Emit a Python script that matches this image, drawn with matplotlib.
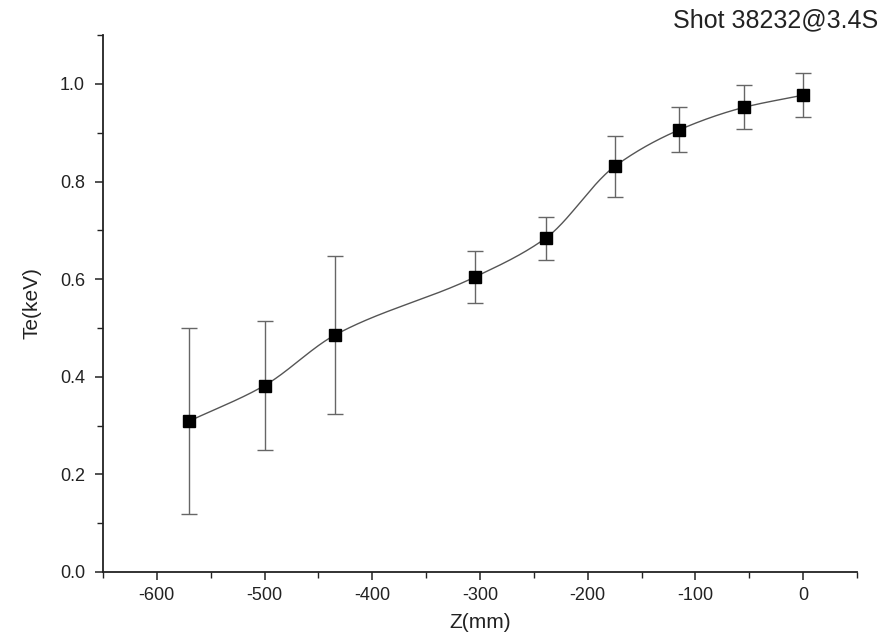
import numpy as np
import matplotlib
matplotlib.use("Agg")
import matplotlib.pyplot as plt
from matplotlib.ticker import MultipleLocator, FormatStrFormatter

# Te profile along Z, shot 38232 at 3.4 s
z_mm = [-570, -500, -435, -305, -239, -175, -115, -55, 0]
te_kev = [0.309, 0.382, 0.485, 0.604, 0.684, 0.831, 0.906, 0.952, 0.977]
te_err = [0.190, 0.133, 0.162, 0.053, 0.044, 0.063, 0.046, 0.045, 0.045]

plt.rcParams['font.family'] = ['Liberation Sans', 'DejaVu Sans']
plt.rcParams['axes.unicode_minus'] = False


def pchip_curve(x, y, n=500):
    # shape preserving cubic, only used to draw the connecting curve
    x = np.asarray(x, float)
    y = np.asarray(y, float)
    h = np.diff(x)
    delta = np.diff(y) / h
    m = np.zeros_like(y)
    for i in range(1, len(x) - 1):
        if delta[i - 1] * delta[i] > 0:
            w1 = 2 * h[i] + h[i - 1]
            w2 = h[i] + 2 * h[i - 1]
            m[i] = (w1 + w2) / (w1 / delta[i - 1] + w2 / delta[i])
    m[0] = delta[0]
    m[-1] = delta[-1]
    xs = np.linspace(x[0], x[-1], n)
    idx = np.clip(np.searchsorted(x, xs) - 1, 0, len(x) - 2)
    t = (xs - x[idx]) / h[idx]
    h00 = 2 * t ** 3 - 3 * t ** 2 + 1
    h10 = t ** 3 - 2 * t ** 2 + t
    h01 = -2 * t ** 3 + 3 * t ** 2
    h11 = t ** 3 - t ** 2
    ys = h00 * y[idx] + h10 * h[idx] * m[idx] + h01 * y[idx + 1] + h11 * h[idx] * m[idx + 1]
    return xs, ys


fig = plt.figure(figsize=(8.84, 6.39), dpi=100)
ax = fig.add_axes([0.1165, 0.105, 0.853, 0.84])

xs, ys = pchip_curve(z_mm, te_kev)
ax.plot(xs, ys, color='#555555', lw=1.0, zorder=2)
ax.errorbar(z_mm, te_kev, yerr=te_err, fmt='none', ecolor='#666666',
            elinewidth=1.0, capsize=6, capthick=1.0, zorder=1)
ax.plot(z_mm, te_kev, 's', color='black', ms=8, zorder=3)

ax.set_xlim(-650, 50)
ax.set_ylim(0, 1.1)
ax.xaxis.set_major_locator(MultipleLocator(100))
ax.xaxis.set_minor_locator(MultipleLocator(50))
ax.yaxis.set_major_locator(MultipleLocator(0.2))
ax.yaxis.set_minor_locator(MultipleLocator(0.1))
ax.yaxis.set_major_formatter(FormatStrFormatter('%.1f'))

for s in ['top', 'right']:
    ax.spines[s].set_visible(False)
for s in ['left', 'bottom']:
    ax.spines[s].set_linewidth(1.3)
    ax.spines[s].set_color('#222222')

ax.tick_params(which='major', direction='out', length=6, width=1.1, pad=5,
               labelsize=13, colors='#222222')
ax.tick_params(axis='y', which='major', pad=7)
ax.tick_params(which='minor', direction='out', length=4, width=1.0, colors='#222222')

ax.set_xlabel('Z(mm)', fontsize=15, labelpad=6, color='#222222')
ax.set_ylabel('Te(keV)', fontsize=15, labelpad=13, color='#222222')

fig.text(0.993, 0.968, 'Shot 38232@3.4S', ha='right', va='center',
         fontsize=18, color='#222222')

fig.savefig('out.png', dpi=100)
